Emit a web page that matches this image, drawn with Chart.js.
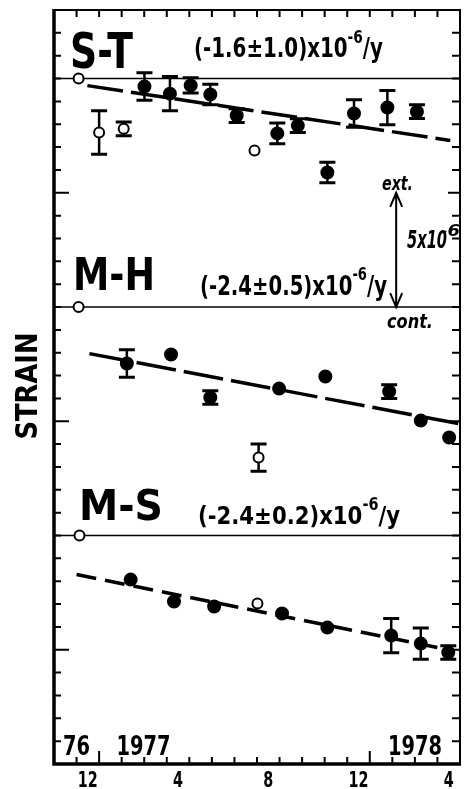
<!DOCTYPE html>
<html>
<head>
<meta charset="utf-8">
<script src="https://cdn.jsdelivr.net/npm/chart.js@4"></script>
<style>
  html, body { margin: 0; padding: 0; background: #fff; }
  canvas { display: block; }
</style>
</head>
<body>
<canvas id="strainChart" width="468" height="789"></canvas>
<script>
// months counted from 1 Nov 1976, strain in units of 1e-6 (each series shifted by its baseline)
const stMonths = [1.09, 2.0, 3.09, 4.01, 5.14, 6.06, 6.93, 8.1, 8.89, 9.9, 10.81, 12.12, 13.3, 14.78, 16.09];
const stStrain = [20.0, 17.64, 17.8, 19.65, 19.34, 19.7, 19.3, 18.38, 16.85, 17.6, 17.94, 15.89, 18.47, 18.73, 18.55];
const stErr    = [0, 0.95, 0.3, 0.6, 0.75, 0.33, 0.45, 0.3, 0, 0.45, 0.3, 0.45, 0.6, 0.75, 0.3];
const stOpen   = [1, 1, 1, 0, 0, 0, 0, 0, 1, 0, 0, 0, 0, 0, 0];

const mhMonths = [1.09, 3.23, 5.19, 6.93, 9.07, 9.98, 12.03, 14.86, 16.26, 17.52];
const mhStrain = [10.0, 7.53, 7.92, 6.04, 3.41, 6.43, 6.96, 6.3, 5.03, 4.29];
const mhErr    = [0, 0.6, 0, 0.3, 0.6, 0, 0, 0.3, 0, 0];
const mhOpen   = [1, 0, 0, 0, 1, 0, 0, 0, 0, 0];

const msMonths = [1.13, 3.4, 5.32, 7.1, 9.02, 10.11, 12.12, 14.95, 16.26, 17.48];
const msStrain = [0.0, -1.93, -2.89, -3.11, -2.98, -3.41, -4.03, -4.38, -4.73, -5.12];
const msErr    = [0, 0, 0, 0, 0, 0, 0, 0.75, 0.68, 0.3];
const msOpen   = [1, 0, 0, 0, 1, 0, 0, 0, 0, 0];

// fitted trend lines, end points
const stTrendMonths = [1.48, 17.57];
const stTrendStrain = [19.69, 17.29];
const mhTrendMonths = [1.57, 17.92];
const mhTrendStrain = [7.96, 4.9];
const msTrendMonths = [1.0, 17.5];
const msTrendStrain = [-1.71, -5.0];

const baselines = [20, 10, 0];
const seriesNames = ['S-T', 'M-H', 'M-S'];
const seriesRates = ['(-1.6\u00b11.0)x10', '(-2.4\u00b10.5)x10', '(-2.4\u00b10.2)x10'];

const monthTickPos = [1.5, 5.5, 9.5, 13.5, 17.5];
const monthTickLabels = ['12', '4', '8', '12', '4'];
const yearLabelPos = [1.0, 3.97, 16.0];
const yearLabels = ['76', '1977', '1978'];
const yearStarts = [2, 14];
const scaleArrow = [15, 10];

function pts(xs, ys) {
    return xs.map((x, i) => ({ x: x, y: ys[i] }));
}

function pointSet(xs, ys, errs, open) {
    return {
        data: pts(xs, ys),
        errors: errs,
        showLine: false,
        pointRadius: open.map(o => o ? 5 : 6),
        pointBackgroundColor: open.map(o => o ? '#fff' : '#000'),
        pointBorderColor: '#000',
        pointBorderWidth: 2,
        order: 0
    };
}

function trendSet(xs, ys, dash) {
    return {
        data: pts(xs, ys),
        showLine: true,
        borderColor: '#000',
        borderWidth: 3.5,
        borderDash: dash,
        pointRadius: 0,
        order: 1
    };
}

function drawText(ctx, str, x, y, font, width, align) {
    ctx.save();
    ctx.font = font;
    const w0 = ctx.measureText(str).width;
    const sx = width ? width / w0 : 1;
    const w = w0 * sx;
    const x0 = align === 'center' ? x - w / 2 : x;
    ctx.translate(x0, y);
    ctx.scale(sx, 1);
    ctx.textAlign = 'left';
    ctx.textBaseline = 'alphabetic';
    ctx.fillText(str, 0, 0);
    ctx.restore();
    return w;
}

function drawRate(ctx, main, x, y, size, width) {
    const big = 'bold ' + size + 'px "DejaVu Sans"';
    const small = 'bold ' + Math.round(size * 0.68) + 'px "DejaVu Sans"';
    ctx.save();
    ctx.font = big;
    const a = ctx.measureText(main).width;
    const c = ctx.measureText('/y').width;
    ctx.font = small;
    const b = ctx.measureText('-6').width;
    ctx.restore();
    const sx = width / (a + b + c);
    let cx = x;
    cx += drawText(ctx, main, cx, y, big, a * sx);
    cx += drawText(ctx, '-6', cx, y - size * 0.55, small, b * sx);
    drawText(ctx, '/y', cx, y, big, c * sx);
}

const errorBars = {
    id: 'errorBars',
    beforeDatasetsDraw(chart) {
        const { ctx, scales: { x, y } } = chart;
        ctx.save();
        ctx.strokeStyle = '#000';
        chart.data.datasets.forEach(ds => {
            if (!ds.errors) return;
            ds.data.forEach((p, j) => {
                const e = ds.errors[j];
                if (!e) return;
                const px = x.getPixelForValue(p.x);
                const top = y.getPixelForValue(p.y + e);
                const bot = y.getPixelForValue(p.y - e);
                ctx.lineWidth = 2.5;
                ctx.beginPath();
                ctx.moveTo(px, top);
                ctx.lineTo(px, bot);
                ctx.stroke();
                ctx.lineWidth = 3;
                ctx.beginPath();
                ctx.moveTo(px - 8, top);
                ctx.lineTo(px + 8, top);
                ctx.moveTo(px - 8, bot);
                ctx.lineTo(px + 8, bot);
                ctx.stroke();
            });
        });
        ctx.restore();
    }
};

const frame = {
    id: 'frame',
    afterDraw(chart) {
        const { ctx, chartArea: a, scales: { x, y } } = chart;
        ctx.save();
        ctx.strokeStyle = '#000';
        ctx.fillStyle = '#000';

        // box
        ctx.lineWidth = 2;
        ctx.beginPath();
        ctx.moveTo(a.left, a.top);
        ctx.lineTo(a.right, a.top);
        ctx.lineTo(a.right, a.bottom);
        ctx.stroke();
        ctx.lineWidth = 3.5;
        ctx.beginPath();
        ctx.moveTo(a.left, a.top - 1);
        ctx.lineTo(a.left, a.bottom);
        ctx.lineTo(a.right + 1, a.bottom);
        ctx.stroke();

        // strain ticks, every 1e-6
        ctx.lineWidth = 2;
        for (let v = -9; v <= 22; v++) {
            const py = y.getPixelForValue(v);
            const long = v % 5 === 0 && v % 10 !== 0;
            ctx.beginPath();
            ctx.moveTo(a.left, py);
            ctx.lineTo(a.left + (long ? 15 : 7), py);
            ctx.moveTo(a.right, py);
            ctx.lineTo(a.right - (long ? 12 : 8), py);
            ctx.stroke();
        }

        // month ticks
        for (let m = 1; m <= 17; m++) {
            const px = x.getPixelForValue(m);
            const tall = yearStarts.includes(m);
            ctx.beginPath();
            ctx.moveTo(px, a.bottom);
            ctx.lineTo(px, a.bottom - (tall ? 13 : 7));
            ctx.moveTo(px, a.top);
            ctx.lineTo(px, a.top + 7);
            ctx.stroke();
        }

        // month labels under the axis
        monthTickPos.forEach((m, i) => {
            const w = monthTickLabels[i].length * 10;
            drawText(ctx, monthTickLabels[i], x.getPixelForValue(m), 787, 'bold 22px "DejaVu Sans"', w, 'center');
        });
        // year labels inside
        yearLabelPos.forEach((m, i) => {
            const w = yearLabels[i].length * 13.5;
            drawText(ctx, yearLabels[i], x.getPixelForValue(m), 755, 'bold 27px "DejaVu Sans"', w, 'center');
        });

        // series names and rates
        drawText(ctx, seriesNames[0], 70, 68, 'bold 49px "DejaVu Sans"', 63);
        drawText(ctx, seriesNames[1], 73, 290, 'bold 44px "DejaVu Sans"', 82);
        drawText(ctx, seriesNames[2], 79, 520, 'bold 42px "DejaVu Sans"', 84);
        drawRate(ctx, seriesRates[0], 194, 57, 26, 189);
        drawRate(ctx, seriesRates[1], 200, 295, 27, 187);
        drawRate(ctx, seriesRates[2], 198, 524, 25, 202);

        // scale arrow 5x10^-6
        const ax = x.getPixelForValue(15.17);
        const ay1 = y.getPixelForValue(scaleArrow[0]);
        const ay2 = y.getPixelForValue(scaleArrow[1]);
        ctx.lineWidth = 2;
        ctx.beginPath();
        ctx.moveTo(ax, ay1);
        ctx.lineTo(ax, ay2);
        ctx.moveTo(ax - 6, ay1 + 14);
        ctx.lineTo(ax, ay1);
        ctx.lineTo(ax + 6, ay1 + 14);
        ctx.moveTo(ax - 6, ay2 - 14);
        ctx.lineTo(ax, ay2);
        ctx.lineTo(ax + 6, ay2 - 14);
        ctx.stroke();
        drawText(ctx, 'ext.', 382, 190, 'italic bold 20px "DejaVu Sans"', 31);
        drawText(ctx, 'cont.', 387, 328, 'italic bold 20px "DejaVu Sans"', 46);
        drawText(ctx, '5x10', 407, 248, 'italic bold 24px "DejaVu Sans"', 40);
        drawText(ctx, '-6', 440, 236, 'italic bold 16px "DejaVu Sans"', 20);

        // axis title
        ctx.save();
        ctx.translate(37, 386);
        ctx.rotate(-Math.PI / 2);
        drawText(ctx, 'STRAIN', 0, 0, 'bold 30px "DejaVu Sans"', 107, 'center');
        ctx.restore();

        ctx.restore();
    }
};

const datasets = [
    pointSet(stMonths, stStrain, stErr, stOpen),
    pointSet(mhMonths, mhStrain, mhErr, mhOpen),
    pointSet(msMonths, msStrain, msErr, msOpen),
    trendSet(stTrendMonths, stTrendStrain, [36, 8]),
    trendSet(mhTrendMonths, mhTrendStrain, [40, 8]),
    trendSet(msTrendMonths, msTrendStrain, [20, 9])
];
baselines.forEach(b => {
    datasets.push({
        data: [{ x: 0, y: b }, { x: 18, y: b }],
        showLine: true,
        borderColor: '#000',
        borderWidth: 1.5,
        pointRadius: 0,
        order: 2
    });
});

const ctx = document.getElementById('strainChart').getContext('2d');
new Chart(ctx, {
    type: 'scatter',
    data: { datasets: datasets },
    options: {
        responsive: false,
        animation: false,
        layout: { padding: { left: 54, right: 1, top: 10, bottom: 25 } },
        plugins: { legend: { display: false }, tooltip: { enabled: false } },
        scales: {
            x: { type: 'linear', min: 0, max: 18, display: false },
            y: { type: 'linear', min: -10, max: 23, display: false }
        }
    },
    plugins: [errorBars, frame]
});
</script>
</body>
</html>
